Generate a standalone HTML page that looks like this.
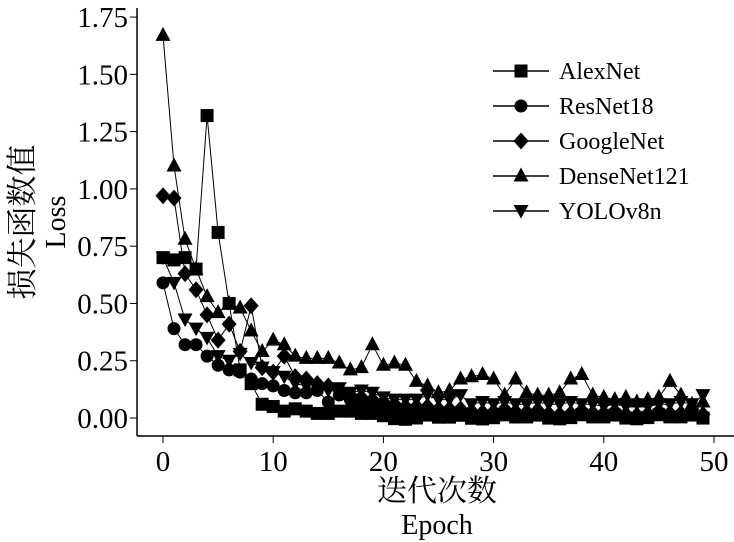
<!DOCTYPE html><html><head><meta charset="utf-8"><style>body{margin:0;background:#fff}svg{display:block}text{font-family:"Liberation Serif","Noto Serif CJK SC",serif;fill:#000}</style></head><body>
<svg id="s" width="734" height="542" xmlns="http://www.w3.org/2000/svg"></svg>
<script>
const s=document.getElementById('s');let h='';
const X=e=>163+e*11.02,Y=v=>418-v*229.1;
h+='<line x1="137" y1="8" x2="137" y2="436" stroke="#000" stroke-width="1.5"/><line x1="137" y1="436" x2="734" y2="436" stroke="#000" stroke-width="1.5"/>';
for(let i=0;i<=7;i++){let v=i*0.25,y=Y(v);h+=`<line x1="130" y1="${y}" x2="137" y2="${y}" stroke="#000"/><text x="128" y="${y+10}" font-size="29" text-anchor="end">${v.toFixed(2)}</text>`;}
for(let i=0;i<=5;i++){let x=X(i*10);h+=`<line x1="${x}" y1="436" x2="${x}" y2="443" stroke="#000"/><text x="${x}" y="471" font-size="29" text-anchor="middle">${i*10}</text>`;}
h+='<text x="437" y="501" font-size="30" text-anchor="middle">迭代次数</text><text x="437" y="534" font-size="28" text-anchor="middle">Epoch</text>';
h+='<text transform="translate(33,222) rotate(-90)" font-size="31" text-anchor="middle">损失函数值</text><text transform="translate(65,222) rotate(-90)" font-size="28" text-anchor="middle">Loss</text>';
function fill(a,end,n){while(a.length<50){let i=a.length;a.push(end+(a[a.length-1]-end)*0.85+((i*37)%7-3)*0.004)}return a}
const D={
A:fill([0.70,0.69,0.70,0.65,1.32,0.81,0.50,0.21,0.15,0.06,0.05,0.03,0.04,0.03,0.02,0.02,0.03,0.03,0.02,0.02,0.01],0.005),
R:fill([0.59,0.39,0.32,0.32,0.27,0.23,0.21,0.20,0.17,0.15,0.14,0.12,0.11,0.11,0.12,0.07,0.10,0.08,0.06,0.05,0.04,0.04,0.04,0.03,0.03,0.03,0.03,0.03,0.02],0.01),
G:fill([0.97,0.96,0.63,0.56,0.45,0.34,0.41,0.29,0.49,0.22,0.20,0.27,0.18,0.17,0.15,0.14,0.12,0.10,0.09,0.08,0.07,0.06,0.05,0.05,0.05,0.04,0.04,0.04,0.03],0.02),
D:[1.67,1.10,0.78,0.65,0.53,0.46,0.50,0.48,0.38,0.29,0.34,0.32,0.27,0.26,0.26,0.26,0.24,0.21,0.22,0.32,0.23,0.24,0.23,0.16,0.14,0.11,0.12,0.17,0.18,0.19,0.17,0.10,0.17,0.11,0.10,0.10,0.11,0.17,0.19,0.10,0.09,0.08,0.09,0.07,0.08,0.09,0.16,0.10,0.06,0.07],
Y:fill([0.70,0.59,0.43,0.39,0.35,0.27,0.25,0.28,0.24,0.22,0.20,0.18,0.15,0.14,0.13,0.12,0.13,0.11,0.12,0.11,0.09,0.08,0.08,0.08,0.10,0.08,0.08,0.10,0.06,0.07,0.06,0.07,0.06,0.06,0.07,0.06,0.06,0.07,0.06,0.06,0.05,0.06,0.05,0.06,0.05,0.06,0.06,0.07,0.06],0.1)};
D.Y[49]=0.10;
function mk(t,x,y){switch(t){case'A':return`<rect x="${x-6.5}" y="${y-6.5}" width="13" height="13"/>`;case'R':return`<circle cx="${x}" cy="${y}" r="6.5"/>`;case'G':return`<polygon points="${x},${y-8.5} ${x+7.5},${y} ${x},${y+8.5} ${x-7.5},${y}"/>`;case'D':return`<polygon points="${x},${y-8.5} ${x+7.5},${y+5.5} ${x-7.5},${y+5.5}"/>`;case'Y':return`<polygon points="${x},${y+7.5} ${x+7.5},${y-6} ${x-7.5},${y-6}"/>`}}
for(const k of ['A','R','G','D','Y']){let p=D[k].map((v,i)=>X(i)+','+Y(v)).join(' ');h+=`<polyline points="${p}" fill="none" stroke="#000" stroke-width="1"/>`;D[k].forEach((v,i)=>h+=mk(k,X(i),Y(v)));}
const L=[['A','AlexNet'],['R','ResNet18'],['G','GoogleNet'],['D','DenseNet121'],['Y','YOLOv8n']];
L.forEach((l,i)=>{let y=71+i*35;h+=`<line x1="493" y1="${y}" x2="549" y2="${y}" stroke="#000" stroke-width="1.5"/>`+mk(l[0],521,y)+`<text x="559" y="${y+8}" font-size="24">${l[1]}</text>`});
s.innerHTML=h;
</script></body></html>
